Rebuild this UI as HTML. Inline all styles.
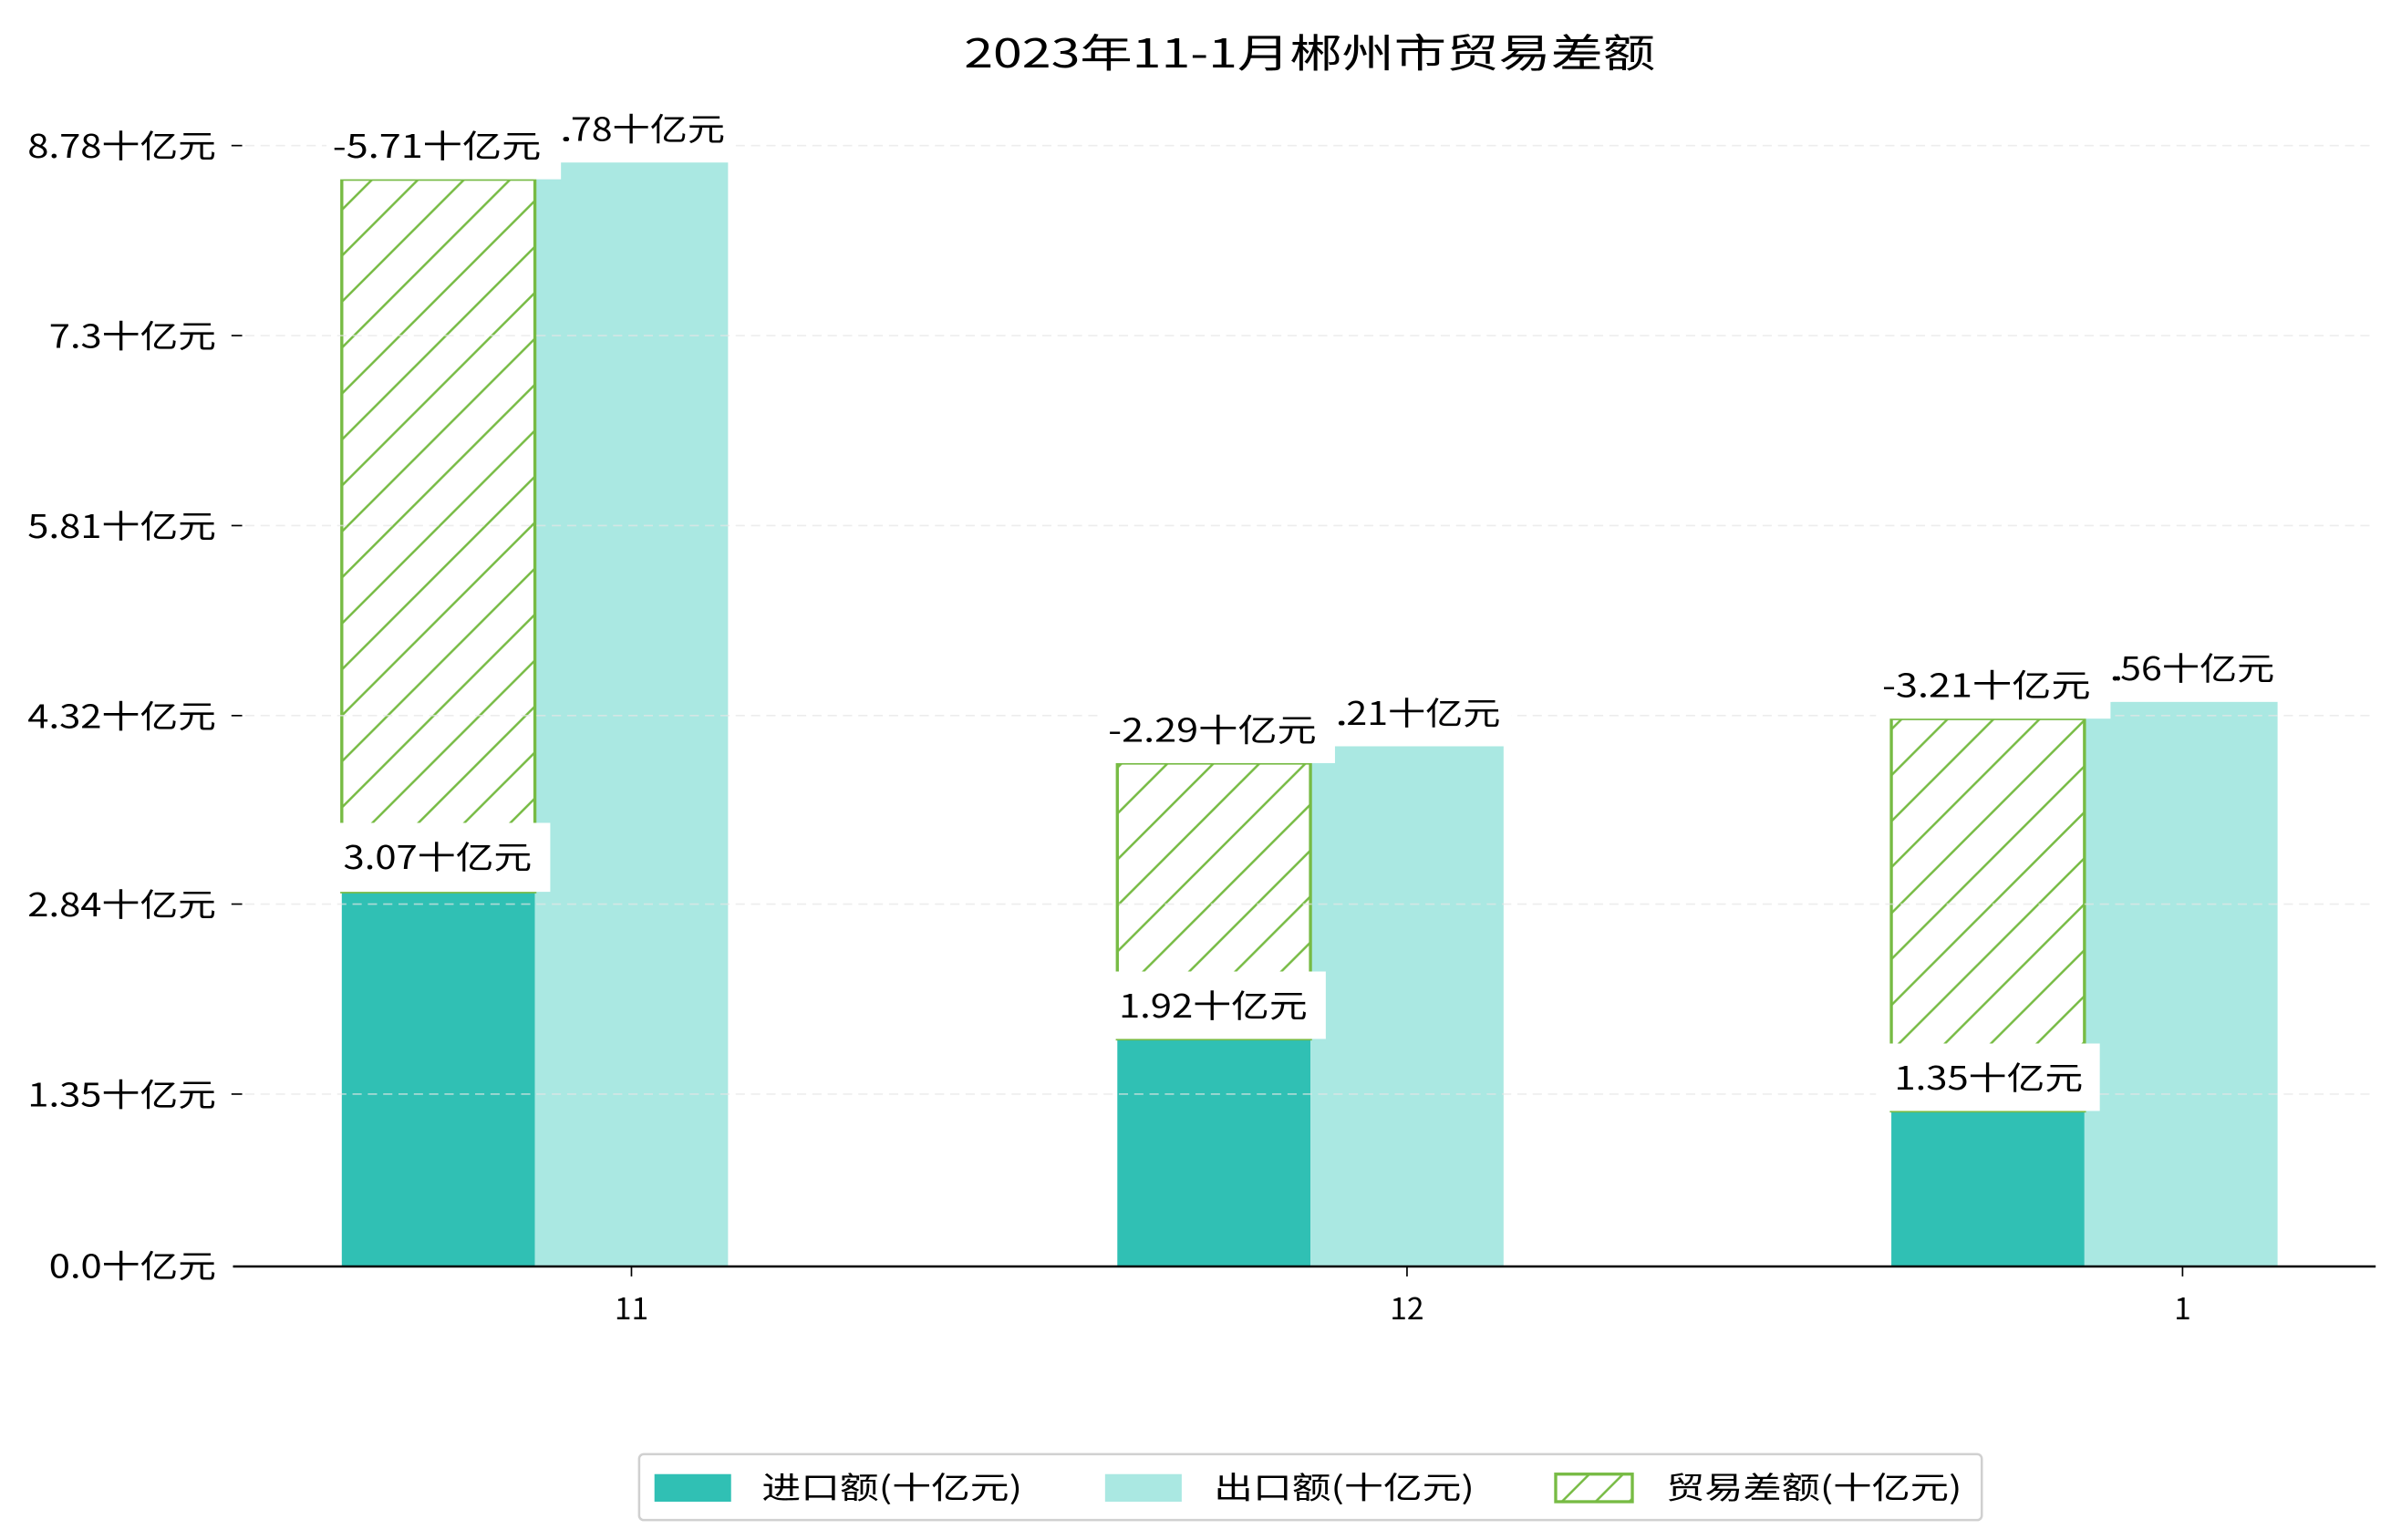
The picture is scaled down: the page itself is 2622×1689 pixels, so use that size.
<!DOCTYPE html>
<html><head><meta charset="utf-8"><style>html,body{margin:0;padding:0;background:#fff}svg{display:block}</style></head><body>
<svg width="2622" height="1689" viewBox="0 0 1560 1005" preserveAspectRatio="none" xmlns="http://www.w3.org/2000/svg" font-family="'WenQuanYi Zen Hei','Noto Sans CJK SC',sans-serif">
<defs>
<pattern id="h" patternUnits="userSpaceOnUse" width="30" height="30">
<line x1="-5" y1="35" x2="35" y2="-5" stroke="#77bb44" stroke-width="1.5"/>
<line x1="-20" y1="20" x2="20" y2="-20" stroke="#77bb44" stroke-width="1.5"/>
<line x1="10" y1="50" x2="50" y2="10" stroke="#77bb44" stroke-width="1.5"/>
</pattern>
<pattern id="hl" patternUnits="userSpaceOnUse" x="1015" y="962" width="22" height="22">
<line x1="-2" y1="24" x2="24" y2="-2" stroke="#77bb44" stroke-width="1.5"/>
</pattern>
</defs>
<text x="629" y="44" font-size="26" textLength="451" lengthAdjust="spacingAndGlyphs" fill="#000">2023年11-1月郴州市贸易差额</text>
<g>
<rect x="223" y="582" width="126" height="244" fill="#30c0b4"/>
<rect x="349" y="106" width="126" height="720" fill="#aae8e2"/>
<rect x="223" y="117" width="126" height="465" fill="url(#h)" stroke="#77bb44" stroke-width="2"/>
<rect x="729" y="678" width="126" height="148" fill="#30c0b4"/>
<rect x="855" y="487" width="126" height="339" fill="#aae8e2"/>
<rect x="729" y="498" width="126" height="180" fill="url(#h)" stroke="#77bb44" stroke-width="2"/>
<rect x="1234" y="725" width="126" height="101" fill="#30c0b4"/>
<rect x="1360" y="458" width="126" height="368" fill="#aae8e2"/>
<rect x="1234" y="469" width="126" height="256" fill="url(#h)" stroke="#77bb44" stroke-width="2"/>
</g>
<g stroke="#e6e6e6" stroke-dasharray="6,4" stroke-width="1" opacity="0.7">
<line x1="160" y1="95" x2="1550" y2="95"/><line x1="160" y1="219" x2="1550" y2="219"/>
<line x1="160" y1="343" x2="1550" y2="343"/><line x1="160" y1="467" x2="1550" y2="467"/>
<line x1="160" y1="590" x2="1550" y2="590"/><line x1="160" y1="714" x2="1550" y2="714"/>
</g>
<g font-size="21" fill="#000">
<rect x="345" y="68" width="135" height="38" fill="#fff"/><text x="352" y="92" textLength="121" lengthAdjust="spacingAndGlyphs">4.78十亿元</text>
<rect x="851" y="449" width="135" height="38" fill="#fff"/><text x="858" y="473" textLength="121" lengthAdjust="spacingAndGlyphs">4.21十亿元</text>
<rect x="1357" y="420" width="135" height="38" fill="#fff"/><text x="1363" y="444" textLength="121" lengthAdjust="spacingAndGlyphs">4.56十亿元</text>
<rect x="345" y="68" width="21" height="38" fill="#fff"/>
<rect x="851" y="449" width="21" height="38" fill="#fff"/>
<rect x="1357" y="420" width="21" height="38" fill="#fff"/>
<text x="367" y="92">.</text><text x="873" y="473">.</text><text x="1379" y="444">.</text>
<rect x="213" y="80" width="153" height="37" fill="#fff"/><text x="217" y="103" textLength="136" lengthAdjust="spacingAndGlyphs">-5.71十亿元</text>
<rect x="220" y="537" width="139" height="45" fill="#fff"/><text x="224" y="567" textLength="123" lengthAdjust="spacingAndGlyphs">3.07十亿元</text>
<rect x="719" y="460" width="152" height="38" fill="#fff"/><text x="723" y="484" textLength="136" lengthAdjust="spacingAndGlyphs">-2.29十亿元</text>
<rect x="719" y="634" width="146" height="44" fill="#fff"/><text x="730" y="664" textLength="123" lengthAdjust="spacingAndGlyphs">1.92十亿元</text>
<rect x="1224" y="431" width="153" height="38" fill="#fff"/><text x="1228" y="455" textLength="136" lengthAdjust="spacingAndGlyphs">-3.21十亿元</text>
<rect x="1224" y="681" width="146" height="44" fill="#fff"/><text x="1236" y="711" textLength="123" lengthAdjust="spacingAndGlyphs">1.35十亿元</text>
</g>
<line x1="152" y1="826.5" x2="1550" y2="826.5" stroke="#000" stroke-width="1.5"/>
<g stroke="#000" stroke-width="1">
<line x1="412" y1="827" x2="412" y2="833"/><line x1="918" y1="827" x2="918" y2="833"/><line x1="1424" y1="827" x2="1424" y2="833"/>
<line x1="151" y1="95" x2="158" y2="95"/><line x1="151" y1="219" x2="158" y2="219"/><line x1="151" y1="343" x2="158" y2="343"/>
<line x1="151" y1="467" x2="158" y2="467"/><line x1="151" y1="590" x2="158" y2="590"/><line x1="151" y1="714" x2="158" y2="714"/>
</g>
<g font-size="21" fill="#000">
<text x="18" y="103" textLength="123" lengthAdjust="spacingAndGlyphs">8.78十亿元</text>
<text x="32" y="227" textLength="109" lengthAdjust="spacingAndGlyphs">7.3十亿元</text>
<text x="18" y="351" textLength="123" lengthAdjust="spacingAndGlyphs">5.81十亿元</text>
<text x="18" y="475" textLength="123" lengthAdjust="spacingAndGlyphs">4.32十亿元</text>
<text x="18" y="598" textLength="123" lengthAdjust="spacingAndGlyphs">2.84十亿元</text>
<text x="18" y="722" textLength="123" lengthAdjust="spacingAndGlyphs">1.35十亿元</text>
<text x="32" y="834" textLength="109" lengthAdjust="spacingAndGlyphs">0.0十亿元</text>
</g>
<g font-size="20" text-anchor="middle"><text x="412" y="861">11</text><text x="918" y="861">12</text><text x="1424" y="861">1</text></g>
<rect x="417" y="949" width="876" height="43" rx="3" fill="#fff" stroke="#d0d0d0" stroke-width="1.5"/>
<rect x="427" y="962" width="50" height="18" fill="#30c0b4"/>
<rect x="721" y="962" width="50" height="18" fill="#aae8e2"/>
<rect x="1015" y="962" width="50" height="18" fill="url(#hl)" stroke="#77bb44" stroke-width="2"/>
<g font-size="20" fill="#000">
<text x="497" y="978" textLength="170" lengthAdjust="spacingAndGlyphs">进口额(十亿元)</text>
<text x="792" y="978" textLength="170" lengthAdjust="spacingAndGlyphs">出口额(十亿元)</text>
<text x="1087" y="978" textLength="193" lengthAdjust="spacingAndGlyphs">贸易差额(十亿元)</text>
</g>
</svg>
</body></html>
